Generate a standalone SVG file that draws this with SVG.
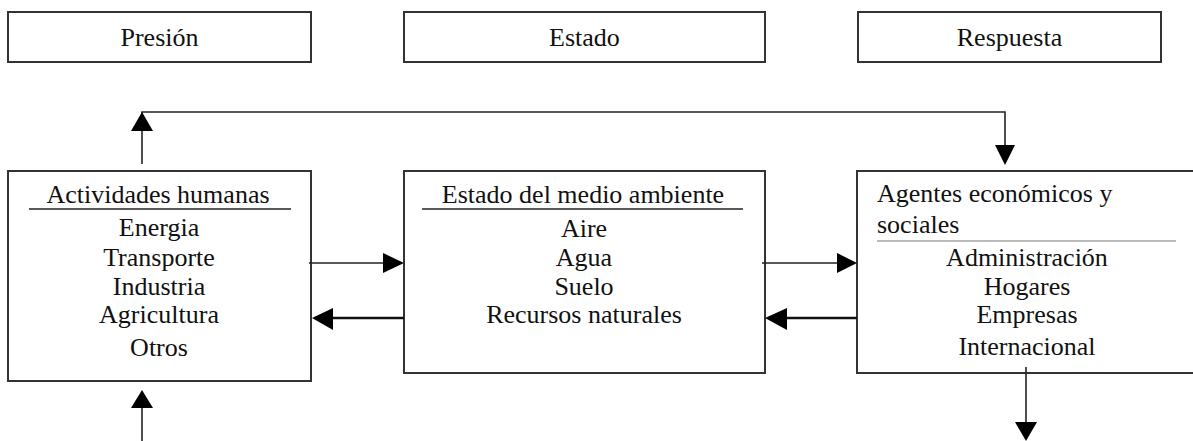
<svg xmlns="http://www.w3.org/2000/svg" width="1193" height="441" viewBox="0 0 1193 441">
<style>
.box{fill:#fff;stroke:#333;stroke-width:2}
.t{font-family:"Liberation Serif","Times New Roman",serif;font-size:26px;fill:#111}
.c{text-anchor:middle}
.ul{stroke:#222;stroke-width:1.5}
.ulg{stroke:#777;stroke-width:1.2}
.ln{stroke:#222;stroke-width:1.6;fill:none}
.lnb{stroke:#111;stroke-width:2.6;fill:none}
.hd{fill:#000}
</style>
<rect width="1193" height="441" fill="#fff"/>
<g id="presion"><rect class="box" x="8" y="12" width="303" height="50"/><text class="t c" x="159.5" y="46">Presión</text></g>
<g id="estado"><rect class="box" x="404" y="12" width="361" height="50"/><text class="t c" x="584.5" y="46">Estado</text></g>
<g id="respuesta"><rect class="box" x="858" y="12" width="303" height="50"/><text class="t c" x="1009.5" y="46">Respuesta</text></g>
<g id="actividades"><rect class="box" x="8" y="171" width="303" height="210"/>
<text class="t c" x="158" y="203">Actividades humanas</text>
<line class="ul" x1="29" y1="209" x2="291" y2="209"/>
<text class="t c" x="159" y="236">Energia</text>
<text class="t c" x="159" y="266">Transporte</text>
<text class="t c" x="159" y="295">Industria</text>
<text class="t c" x="159" y="323">Agricultura</text>
<text class="t c" x="159" y="356">Otros</text></g>
<g id="medio"><rect class="box" x="404" y="171" width="361" height="202"/>
<text class="t c" x="583" y="203">Estado del medio ambiente</text>
<line class="ul" x1="422" y1="209" x2="743" y2="209"/>
<text class="t c" x="584" y="237">Aire</text>
<text class="t c" x="584" y="266">Agua</text>
<text class="t c" x="584" y="295">Suelo</text>
<text class="t c" x="584" y="323">Recursos naturales</text></g>
<g id="agentes"><rect class="box" x="857" y="171" width="345" height="202"/>
<text class="t" x="877" y="202">Agentes económicos y</text>
<text class="t" x="877" y="233">sociales</text>
<line class="ulg" x1="877" y1="241" x2="1176" y2="241"/>
<text class="t c" x="1027" y="266">Administración</text>
<text class="t c" x="1027" y="295">Hogares</text>
<text class="t c" x="1027" y="323">Empresas</text>
<text class="t c" x="1027" y="355">Internacional</text></g>
<g id="connectors">
<polyline class="ln" points="142,164 142,112 1005,112 1005,146"/>
<polygon class="hd" points="142,112 131,131 153,131"/>
<polygon class="hd" points="995,145 1015,145 1005,165"/>
<line class="ln" x1="309" y1="263" x2="384" y2="263"/>
<polygon class="hd" points="383,253 404,263 383,273"/>
<line class="lnb" x1="404" y1="318" x2="330" y2="318"/>
<polygon class="hd" points="333,308 312,318 333,330"/>
<line class="ln" x1="762" y1="263" x2="838" y2="263"/>
<polygon class="hd" points="837,253 857,263 837,273"/>
<line class="lnb" x1="857" y1="318" x2="785" y2="318"/>
<polygon class="hd" points="787,308 765,318 787,330"/>
<line class="ln" x1="1026" y1="367" x2="1026" y2="423"/>
<polygon class="hd" points="1015,422 1037,422 1026,441"/>
<line class="ln" x1="142" y1="407" x2="142" y2="441"/>
<polygon class="hd" points="142,390 131,408 153,408"/>
</g>
</svg>
